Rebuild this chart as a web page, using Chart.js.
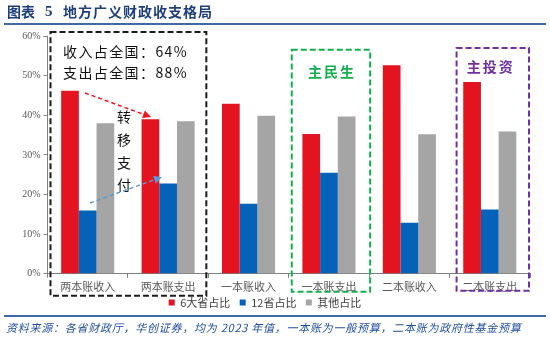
<!DOCTYPE html>
<html>
<head>
<meta charset="utf-8">
<script src="https://cdn.jsdelivr.net/npm/chart.js@4.4.1/dist/chart.umd.min.js"></script>
<style>
html,body{margin:0;padding:0;background:#fff;}
#wrap{width:550px;height:341px;position:relative;}
</style>
</head>
<body>
<div id="wrap"><canvas id="c" width="550" height="341"></canvas></div>
<script>
const categories = ['两本账收入', '两本账支出', '一本账收入', '一本账支出', '二本账收入', '二本账支出'];
const seriesNames = ['6大省占比', '12省占比', '其他占比'];
const big6 = [46.2, 39.0, 42.9, 35.3, 52.6, 48.4];
const prov12 = [16.0, 22.8, 17.7, 25.5, 12.9, 16.2];
const others = [38.0, 38.5, 39.9, 39.7, 35.2, 35.9];
const yTicks = [0, 10, 20, 30, 40, 50, 60];

const CJK = '"Noto Sans CJK SC", sans-serif';
const SERIF = '"Liberation Serif", "DejaVu Serif", serif';

function dashedBox(ctx, l, t, r, b, color) {
  ctx.save();
  ctx.strokeStyle = color;
  ctx.lineWidth = 2;
  ctx.setLineDash([6, 3]);
  ctx.strokeRect(l, t, r - l, b - t);
  ctx.restore();
}
function dashedArrow(ctx, x1, y1, x2, y2, color) {
  ctx.save();
  const ang = Math.atan2(y2 - y1, x2 - x1);
  const hl = 8, hw = 4;
  const bx = x2 - hl * Math.cos(ang), by = y2 - hl * Math.sin(ang);
  ctx.strokeStyle = color;
  ctx.lineWidth = 1.5;
  ctx.setLineDash([4, 3]);
  ctx.beginPath(); ctx.moveTo(x1, y1); ctx.lineTo(bx, by); ctx.stroke();
  ctx.setLineDash([]);
  ctx.fillStyle = color;
  ctx.beginPath();
  ctx.moveTo(x2, y2);
  ctx.lineTo(bx + hw * Math.sin(ang), by - hw * Math.cos(ang));
  ctx.lineTo(bx - hw * Math.sin(ang), by + hw * Math.cos(ang));
  ctx.closePath(); ctx.fill();
  ctx.restore();
}

const decor = {
  id: 'decor',
  afterDraw(chart) {
    const ctx = chart.ctx;
    const x = chart.scales.x, y = chart.scales.y;
    const W = chart.width;
    ctx.save();
    // title
    ctx.fillStyle = '#1f3f7a';
    ctx.textBaseline = 'middle';
    ctx.font = 'bold 14px ' + CJK;
    ctx.fillText('图表', 7, 12);
    ctx.font = 'bold 15px ' + SERIF;
    ctx.fillText('5', 45, 12);
    ctx.font = 'bold 14px ' + CJK;
    ctx.letterSpacing = '1px';
    ctx.fillText('地方广义财政收支格局', 63, 12);
    ctx.letterSpacing = '0px';
    // rules
    ctx.strokeStyle = '#3e6aa6';
    ctx.lineWidth = 2;
    ctx.beginPath(); ctx.moveTo(4, 24); ctx.lineTo(W - 4, 24); ctx.stroke();
    ctx.beginPath(); ctx.moveTo(4, 316); ctx.lineTo(W - 4, 316); ctx.stroke();
    // source
    ctx.fillStyle = '#1f4e9a';
    ctx.font = 'italic 11px ' + CJK;
    ctx.letterSpacing = '0.75px';
    ctx.fillText('资料来源：各省财政厅，华创证券，均为 2023 年值，一本账为一般预算，二本账为政府性基金预算', 6, 328);
    ctx.letterSpacing = '0px';

    const b = i => x.getPixelForValue(i);
    const half = (x.getPixelForValue(1) - x.getPixelForValue(0)) / 2;
    // boxes
    dashedBox(ctx, x.left + 3, y.top - 4, b(1) + half - 2, y.bottom + 22, '#1a1a1a');
    dashedBox(ctx, b(3) - half + 3, y.getPixelForValue(56.5), b(3) + half + 1, y.bottom + 18, '#10b04c');
    dashedBox(ctx, b(5) - half + 7, y.getPixelForValue(57), x.right - 1, y.bottom + 17, '#7030a0');

    // texts
    ctx.fillStyle = '#111';
    ctx.textBaseline = 'middle';
    ctx.textAlign = 'left';
    ctx.font = '14px ' + CJK;
    ctx.letterSpacing = '1.4px';
    ctx.fillText('收入占全国：64%', 63, 52);
    ctx.fillText('支出占全国：88%', 63, 73);
    ctx.letterSpacing = '0px';
    ctx.textAlign = 'center';
    ['转', '移', '支', '付'].forEach((ch, i) => ctx.fillText(ch, 124, 117 + i * 22.7));

    ctx.font = 'bold 14px ' + CJK;
    ctx.letterSpacing = '2px';
    ctx.fillStyle = '#10b04c';
    ctx.fillText('主民生', b(3) + 3, 72);
    ctx.fillStyle = '#7030a0';
    ctx.fillText('主投资', b(5) + 1, 67);
    ctx.letterSpacing = '0px';

    // arrows
    dashedArrow(ctx, 85, 93, 151, 117, '#f0141e');
    dashedArrow(ctx, 90, 203, 162, 177, '#5b9bd5');
    ctx.restore();
  }
};

new Chart(document.getElementById('c'), {
  type: 'bar',
  data: {
    labels: categories,
    datasets: [
      { label: seriesNames[0], data: big6, backgroundColor: '#e3141f' },
      { label: seriesNames[1], data: prov12, backgroundColor: '#0562b8' },
      { label: seriesNames[2], data: others, backgroundColor: '#a5a5a5' }
    ]
  },
  options: {
    responsive: false,
    animation: false,
    layout: { padding: { top: 36, right: 20, left: 0, bottom: 23 } },
    datasets: { bar: { categoryPercentage: 0.66, barPercentage: 1.0, borderWidth: 0 } },
    plugins: {
      legend: {
        position: 'bottom',
        labels: {
          usePointStyle: true, pointStyle: 'rect', boxWidth: 6, boxHeight: 6,
          padding: 2, color: '#404040', font: { family: CJK, size: 11 },
          generateLabels: chart => Chart.defaults.plugins.legend.labels.generateLabels(chart)
            .map((l, i, arr) => { if (i < arr.length - 1) l.text = l.text + '   '; return l; })
        }
      },
      tooltip: { enabled: false }
    },
    scales: {
      x: {
        grid: { display: true, drawOnChartArea: false, drawTicks: true, tickLength: 4, color: '#808080' },
        border: { display: true, color: '#808080', width: 1 },
        ticks: { color: '#595959', font: { family: CJK, size: 11 }, padding: 2 }
      },
      y: {
        min: 0, max: 60,
        afterBuildTicks: s => { s.ticks = yTicks.map(v => ({ value: v })); },
        grid: { display: true, drawOnChartArea: false, drawTicks: true, tickLength: 4, color: '#808080' },
        border: { display: true, color: '#808080', width: 1 },
        ticks: { color: '#595959', font: { family: SERIF, size: 10 }, padding: 3, callback: v => v + '%' },
        afterFit: s => { s.width = 47.5; }
      }
    }
  },
  plugins: [decor]
});
</script>
</body>
</html>
